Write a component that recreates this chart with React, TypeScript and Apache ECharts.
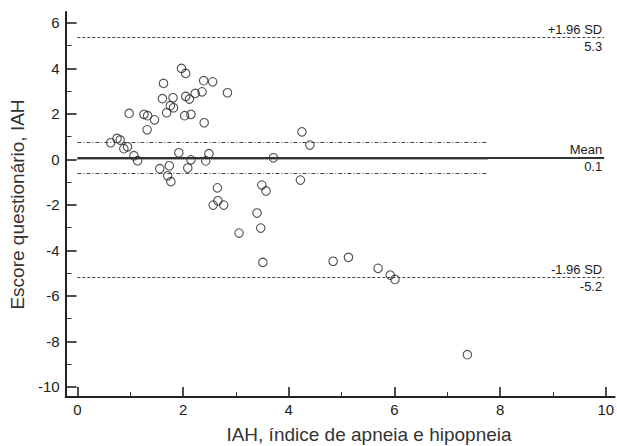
import React, { useEffect, useRef } from "react";
import * as echarts from "echarts";

// Bland-Altman points: x = IAH, y = difference (Escore questionário)
const xValues = [
  0.63, 0.75, 0.81, 0.88, 0.95, 0.98, 1.07, 1.14, 1.26, 1.33,
  1.32, 1.46, 1.56, 1.63, 1.61, 1.69, 1.76, 1.81, 1.82, 1.74,
  1.71, 1.77, 1.92, 1.97, 2.05, 2.05, 2.12, 2.23, 2.03, 2.15,
  2.09, 2.15, 2.36, 2.39, 2.56, 2.4, 2.43, 2.49, 2.84, 2.65,
  2.57, 2.66, 2.77, 3.71, 3.49, 3.57, 4.25, 4.4, 4.22, 3.06,
  3.4, 3.47, 3.51, 4.84, 5.13, 5.69, 5.92, 6.01, 7.38,
];
const yValues = [
  0.73, 0.92, 0.85, 0.47, 0.55, 2.02, 0.16, -0.06, 1.98, 1.92,
  1.3, 1.74, -0.41, 3.34, 2.67, 2.05, 2.36, 2.71, 2.27, -0.28,
  -0.72, -0.98, 0.29, 4.0, 3.78, 2.77, 2.65, 2.9, 1.92, 1.98,
  -0.38, -0.02, 2.97, 3.46, 3.41, 1.61, -0.07, 0.25, 2.93, -1.25,
  -2.01, -1.82, -2.01, 0.07, -1.13, -1.39, 1.21, 0.63, -0.91, -3.24,
  -2.36, -3.02, -4.53, -4.48, -4.31, -4.79, -5.09, -5.28, -8.59,
];

const meanDiff = 0.07;
const upperLoA = 5.35;
const lowerLoA = -5.2;
const ciUpper = 0.75;
const ciLower = -0.61;
const refLabels = ["+1.96 SD", "5.3", "Mean", "0.1", "-1.96 SD", "-5.2"];

const xMajorTicks = [0, 2, 4, 6, 8, 10];
const xMinorTicks = [1, 3, 5, 7, 9];
const yMajorTicks = [-10, -8, -6, -4, -2, 0, 2, 4, 6];
const yMinorTicks = [-9, -7, -5, -3, -1, 1, 3, 5];

const xTitle = "IAH, índice de apneia e hipopneia";
const yTitle = "Escore questionário, IAH";

const FONT = "'Liberation Sans', Arial, Helvetica, sans-serif";

export default function App() {
  const ref = useRef<HTMLDivElement>(null);

  useEffect(() => {
    if (!ref.current) return;
    const chart = echarts.init(ref.current, undefined, { renderer: "svg" });

    const lineEnd = 9.97;
    const ciEnd = 7.77;

    const labelBase = {
      show: true,
      fontFamily: FONT,
      fontSize: 13,
      color: "#222",
      distance: 2,
    };

    const refLine = (
      y: number,
      x1: number,
      lineStyle: any,
      topLabel?: string,
      bottomLabel?: string
    ) => {
      const items: any[] = [
        [
          {
            coord: [0, y],
            lineStyle,
            label: topLabel
              ? { ...labelBase, position: "insideEndTop", formatter: topLabel }
              : { show: false },
          },
          { coord: [x1, y] },
        ],
      ];
      if (bottomLabel) {
        items.push([
          {
            coord: [0, y],
            lineStyle: { color: "rgba(255,255,255,0)", width: 0 },
            label: { ...labelBase, position: "insideEndBottom", formatter: bottomLabel },
          },
          { coord: [x1, y] },
        ]);
      }
      return items;
    };

    const sdStyle = { type: [3, 2], width: 1, color: "#444" };
    const ciStyle = { type: [4, 2, 1, 2], width: 1, color: "#444" };
    const zeroStyle = { type: [1, 1], width: 1, color: "#555" };
    const meanStyle = { type: "solid", width: 2, color: "#333" };

    const markData = [
      ...refLine(0, ciEnd, zeroStyle),
      ...refLine(ciUpper, ciEnd, ciStyle),
      ...refLine(ciLower, ciEnd, ciStyle),
      ...refLine(upperLoA, lineEnd, sdStyle, refLabels[0], refLabels[1]),
      ...refLine(meanDiff, lineEnd, meanStyle, refLabels[2], refLabels[3]),
      ...refLine(lowerLoA, lineEnd, sdStyle, refLabels[4], refLabels[5]),
    ];

    const xMin = -0.223;
    const xMax = 10.167;
    const yMin = -10.45;
    const yMax = 6.48;

    const option: any = {
      animation: false,
      backgroundColor: "#fff",
      grid: { left: 57, right: 0, top: 12, bottom: 49, containLabel: false },
      xAxis: [
        {
          type: "value",
          min: xMin,
          max: xMax,
          axisLine: { show: true, onZero: false, lineStyle: { color: "#222", width: 2 } },
          axisTick: {
            show: true,
            inside: true,
            length: 10,
            customValues: xMajorTicks,
            lineStyle: { color: "#222", width: 1.6 },
          },
          axisLabel: {
            show: true,
            customValues: xMajorTicks,
            margin: 5,
            fontFamily: FONT,
            fontSize: 15,
            color: "#222",
          },
          splitLine: { show: false },
        },
        {
          type: "value",
          min: xMin,
          max: xMax,
          position: "bottom",
          axisLine: { show: false, onZero: false },
          axisTick: {
            show: true,
            inside: true,
            length: 5,
            customValues: xMinorTicks,
            lineStyle: { color: "#333", width: 1 },
          },
          axisLabel: { show: false },
          splitLine: { show: false },
        },
      ],
      yAxis: [
        {
          type: "value",
          min: yMin,
          max: yMax,
          axisLine: { show: true, onZero: false, lineStyle: { color: "#222", width: 2 } },
          axisTick: {
            show: true,
            inside: true,
            length: 11,
            customValues: yMajorTicks,
            lineStyle: { color: "#222", width: 1.6 },
          },
          axisLabel: {
            show: true,
            customValues: yMajorTicks,
            margin: 6,
            fontFamily: FONT,
            fontSize: 15,
            color: "#222",
          },
          splitLine: { show: false },
          name: yTitle,
          nameLocation: "middle",
          nameGap: 27,
          nameRotate: 90,
          nameTextStyle: { fontFamily: FONT, fontSize: 19, color: "#333" },
        },
        {
          type: "value",
          min: yMin,
          max: yMax,
          position: "left",
          axisLine: { show: false, onZero: false },
          axisTick: {
            show: true,
            inside: true,
            length: 6,
            customValues: yMinorTicks,
            lineStyle: { color: "#333", width: 1 },
          },
          axisLabel: { show: false },
          splitLine: { show: false },
        },
      ],
      graphic: [
        {
          type: "text",
          x: 369,
          y: 434,
          style: {
            text: xTitle,
            fontFamily: FONT,
            fontSize: 19,
            fill: "#333",
            align: "center",
            verticalAlign: "middle",
          },
        },
      ],
      series: [
        {
          type: "scatter",
          xAxisIndex: 0,
          yAxisIndex: 0,
          data: xValues.map((x, i) => [x, yValues[i]]),
          symbol: "circle",
          symbolSize: 8.5,
          itemStyle: { color: "rgba(0,0,0,0)", borderColor: "#222", borderWidth: 1.1 },
          z: 3,
          markLine: {
            silent: true,
            symbol: "none",
            animation: false,
            data: markData,
          },
        },
      ],
    };

    chart.setOption(option);
    return () => chart.dispose();
  }, []);

  return (
    <div
      ref={ref}
      style={{ position: "fixed", left: 0, top: 0, width: 617, height: 446 }}
    />
  );
}
